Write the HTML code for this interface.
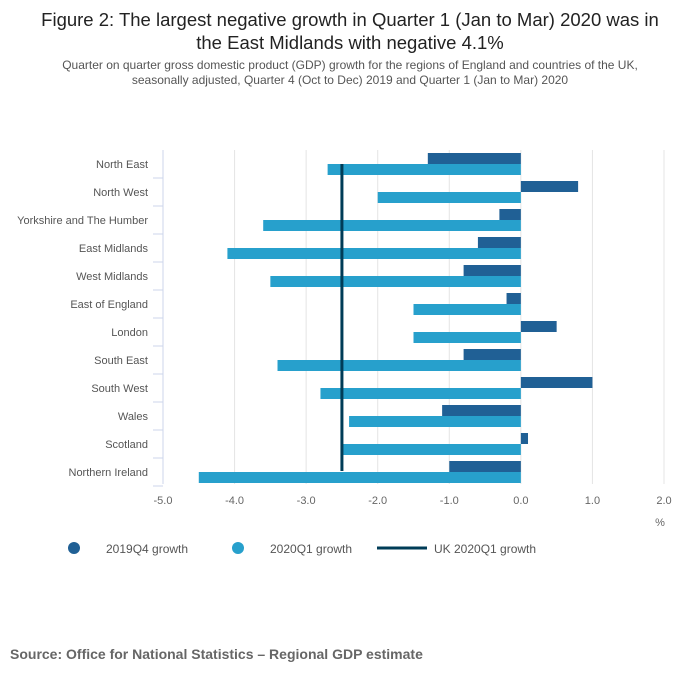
<!DOCTYPE html>
<html><head><meta charset="utf-8"><style>
body{margin:0;width:700px;height:682px;background:#fff;font-family:"Liberation Sans",sans-serif;overflow:hidden}
.t{position:absolute;left:0;width:700px;text-align:center}
</style></head><body>
<div class="t" style="top:8px;font-size:18.5px;color:#222;line-height:23px">Figure 2: The largest negative growth in Quarter 1 (Jan to Mar) 2020 was in<br>the East Midlands with negative 4.1%</div>
<div class="t" style="top:58px;font-size:12px;color:#555;line-height:15px">Quarter on quarter gross domestic product (GDP) growth for the regions of England and countries of the UK,<br>seasonally adjusted, Quarter 4 (Oct to Dec) 2019 and Quarter 1 (Jan to Mar) 2020</div>
<svg id="c" width="700" height="682" style="position:absolute;left:0;top:0"></svg>
<div style="position:absolute;left:10px;top:646px;font-size:14px;font-weight:bold;color:#666">Source: Office for National Statistics – Regional GDP estimate</div>
<script>
const regions=["North East","North West","Yorkshire and The Humber","East Midlands","West Midlands","East of England","London","South East","South West","Wales","Scotland","Northern Ireland"];
const q4=[-1.3,0.8,-0.3,-0.6,-0.8,-0.2,0.5,-0.8,1.0,-1.1,0.1,-1.0];
const q1=[-2.7,-2.0,-3.6,-4.1,-3.5,-1.5,-1.5,-3.4,-2.8,-2.4,-2.5,-4.5];
const ukValue=-2.5;
const ticks=[-5,-4,-3,-2,-1,0,1,2];
const tickLabels=["-5.0","-4.0","-3.0","-2.0","-1.0","0.0","1.0","2.0"];
const svg=document.getElementById('c');const NS='http://www.w3.org/2000/svg';
function x(v){return 163+(v+5)*(664-163)/7;}
function yc(i){return 164+i*28;}
function mk(t,a,txt){const e=document.createElementNS(NS,t);for(const k in a)e.setAttribute(k,a[k]);if(txt!=null)e.textContent=txt;svg.appendChild(e);return e;}
ticks.forEach((v,i)=>{
 const g=mk('line',{x1:x(v),x2:x(v),y1:150,y2:484,stroke:'#e4e4e4','stroke-width':1});
 
 
 const t=mk('text',{x:x(v),y:504,'font-size':11,fill:'#666','text-anchor':'middle','font-family':'Liberation Sans'},tickLabels[i]);
 
 
});
const ax=mk('line',{x1:163,x2:163,y1:150,y2:484,stroke:'#ccd6eb'});


regions.forEach((r,i)=>{
 const c=yc(i);
 const tk=mk('line',{x1:153,x2:163,y1:c+14,y2:c+14,stroke:'#ccd6eb'});
 
 
 const l=mk('text',{x:148,y:c+4,'font-size':11,fill:'#555','text-anchor':'end','font-family':'Liberation Sans'},r);
 
 
 const a=mk('rect',{x:Math.min(x(0),x(q4[i])),y:c-11,width:Math.abs(x(q4[i])-x(0)),height:11,fill:'#206095'});
 
 
 const b=mk('rect',{x:Math.min(x(0),x(q1[i])),y:c,width:Math.abs(x(q1[i])-x(0)),height:11,fill:'#27a0cc'});
 
 
});
const uk=mk('line',{x1:x(ukValue),x2:x(ukValue),y1:164,y2:471,stroke:'#003c57','stroke-width':3});


const pct=mk('text',{x:660,y:526,'font-size':11,fill:'#666','font-family':'Liberation Sans','text-anchor':'middle'},'%');


const c1=mk('circle',{cx:74,cy:548,r:6,fill:'#206095'});


const t1=mk('text',{x:106,y:553,'font-size':12,fill:'#555','font-family':'Liberation Sans'},'2019Q4 growth');


const c2=mk('circle',{cx:238,cy:548,r:6,fill:'#27a0cc'});


const t2=mk('text',{x:270,y:553,'font-size':12,fill:'#555','font-family':'Liberation Sans'},'2020Q1 growth');


const l3=mk('line',{x1:377,x2:427,y1:548,y2:548,stroke:'#003c57','stroke-width':3});


const t3=mk('text',{x:434,y:553,'font-size':12,fill:'#555','font-family':'Liberation Sans'},'UK 2020Q1 growth');


</script>
</body></html>
